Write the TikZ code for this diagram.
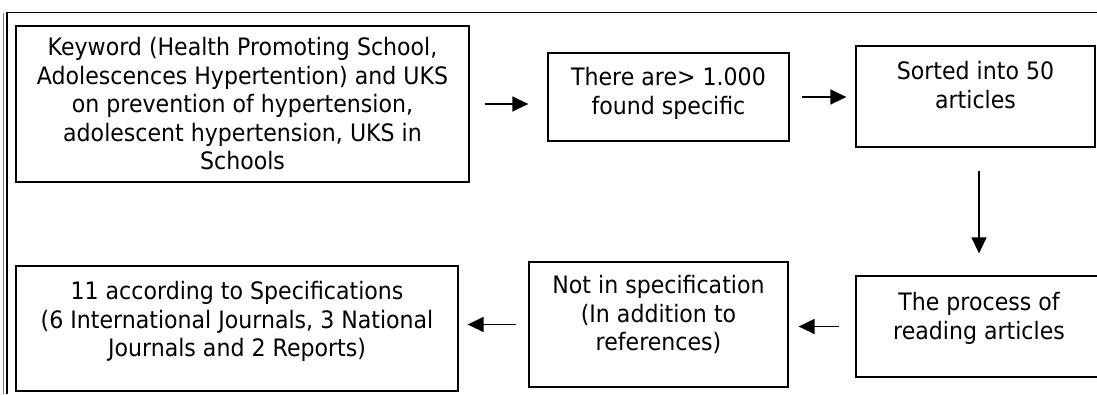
\documentclass[tikz,border=0pt]{standalone}
\usepackage{fontspec}
\setmainfont[FakeStretch=0.92]{DejaVu Sans}
\usepackage{tikz}
\usetikzlibrary{arrows.meta,positioning}
\tikzstyle{box} = [draw, line width=1.3pt, inner sep=0pt]
\tikzstyle{txt} = [align=center, inner sep=0pt, font=\fontsize{24}{28.5}\selectfont]
\tikzstyle{arr} = [line width=1.5pt, -{Triangle[length=16pt,width=15pt]}]
\tikzstyle{frame} = [line width=1.4pt]

\begin{document}
\begin{tikzpicture}[x=1pt,y=-1pt]
      \useasboundingbox[fill=white] (0,0) rectangle (1097,394);
      \draw[frame]        (7,394) -- (7,12.5) -- (1097,12.5);
      \draw[gray,thin]    (3,394) -- (3,12.5);
      \node[box, minimum width=453pt, minimum height=156pt] (kw)      at (242.5,104  ) {};
      \node[box, minimum width=241pt, minimum height=88pt ] (found)   at (668.5, 97  ) {};
      \node[box, minimum width=239pt, minimum height=101pt] (sorted)  at (975.5, 96.5) {};
      \node[box, minimum width=246pt, minimum height=101pt] (process) at (979  ,326.5) {};
      \node[box, minimum width=259pt, minimum height=125pt] (spec)    at (658.5,324.5) {};
      \node[box, minimum width=442pt, minimum height=125pt] (final)   at (237  ,328.5) {};
      \node[txt] (kwtext)      at (kw) {Keyword (Health Promoting School,\\Adolescences Hypertention) and UKS\\on prevention of hypertension,\\adolescent hypertension, UKS in\\Schools};
      \node[txt, below=15pt of found.north]   (foundtext)   {There are> 1.000\\found specific};
      \node[txt, below=16pt of sorted.north]  (sortedtext)  {Sorted into 50\\articles};
      \node[txt, below=17pt of process.north] (processtext) {The process of\\reading articles};
      \node[txt, below=14pt of spec.north]    (spectext)    {Not in specification\\(In addition to\\references)};
      \node[txt, below=16pt of final.north]   (finaltext)   {11 according to Specifications\\(6 International Journals, 3 National\\Journals and 2 Reports)};
      \draw[arr, shorten <=15pt, shorten >=19pt] (kw.east)      -- (kw.east -| found.west);
      \draw[arr, shorten <=12pt, shorten >=9pt ] (found.east)   -- (found.east -| sorted.west);
      \draw[arr, shorten <=23pt, shorten >=22pt] (process.north |- sorted.south) -- (process.north);
      \draw[arr, shorten <=16pt, shorten >=10pt] (process.west) -- (process.west -| spec.east);
      \draw[arr, shorten <=12pt, shorten >=9pt ] (spec.west)    -- (spec.west -| final.east);
\end{tikzpicture}
\end{document}
